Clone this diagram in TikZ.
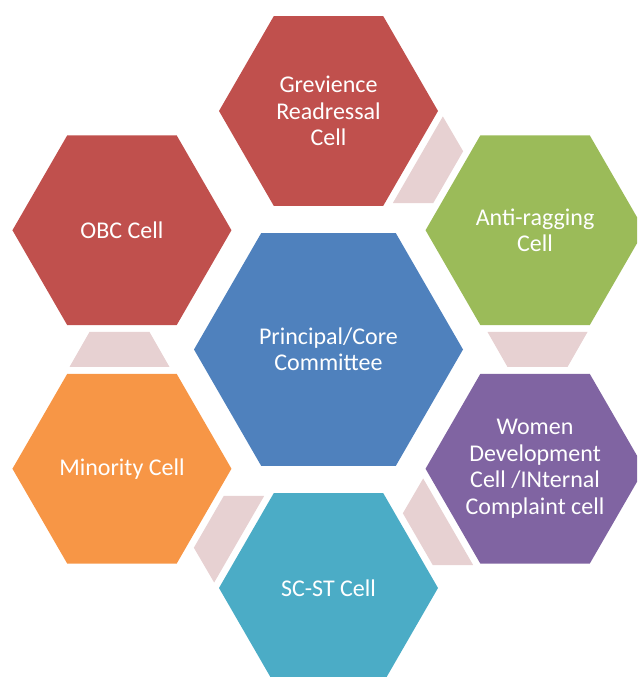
\documentclass[tikz,border=0pt]{standalone}
\usepackage{fontspec}
\setmainfont{Carlito}
\usetikzlibrary{shapes.geometric}

\begin{document}
\begin{tikzpicture}[
    x=1pt, y=1pt,
    font={\fontsize{24}{26.5}\selectfont},
    hexcell/.style={regular polygon,regular polygon sides=6,inner sep=0pt,outer sep=0pt,minimum size=219pt},
    celltext/.style={align=center,text=white,inner sep=0pt},
    corecell/.style={hexcell,minimum size=269pt,fill=corefill},
    linkshape/.style={fill=linkfill},
]

\definecolor{corefill}{RGB}{79,129,189}
\definecolor{redfill}{RGB}{192,80,77}     \definecolor{greenfill}{RGB}{155,187,89}
\definecolor{purplefill}{RGB}{128,100,162} \definecolor{tealfill}{RGB}{75,172,198}
\definecolor{orangefill}{RGB}{247,150,70}  \definecolor{linkfill}{RGB}{231,209,210}

% ---------- page frame ----------
\useasboundingbox (0,0) rectangle (637,677);
\clip (0,0) rectangle (637,677);

% ---------- centre hexagon ----------
\node[corecell,label={[celltext]center:{Principal/Core\\Committee}}] (core) at (328.5,327.5) {};

% ---------- outer ring, counter-clockwise from the top ----------
\foreach \i/\a/\col/\txt in {1/90/redfill/{Grevience\\Readressal\\Cell},
                             2/30/greenfill/{Anti-ragging\\Cell},
                             3/-30/purplefill/{Women\\Development\\Cell /INternal\\Complaint cell},
                             4/-90/tealfill/{SC-ST Cell},
                             5/-150/orangefill/{Minority Cell},
                             6/150/redfill/{OBC Cell}}{
  \node[hexcell,fill=\col,label={[celltext]center:{\txt}}] (h\i) at ([shift={(\a:238.5)}]core.center) {};
}

% ---------- pale links between neighbours (none between h6 and h1) ----------
\foreach \a in {60,0,-60,-120,180}{
  \begin{scope}[shift={(core.center)}, rotate=\a]
    \fill[linkshape] (159,17.5) -- (259,17.5) -- (239,-17.5) -- (179,-17.5) -- cycle;
  \end{scope}
}

\end{tikzpicture}
\end{document}
